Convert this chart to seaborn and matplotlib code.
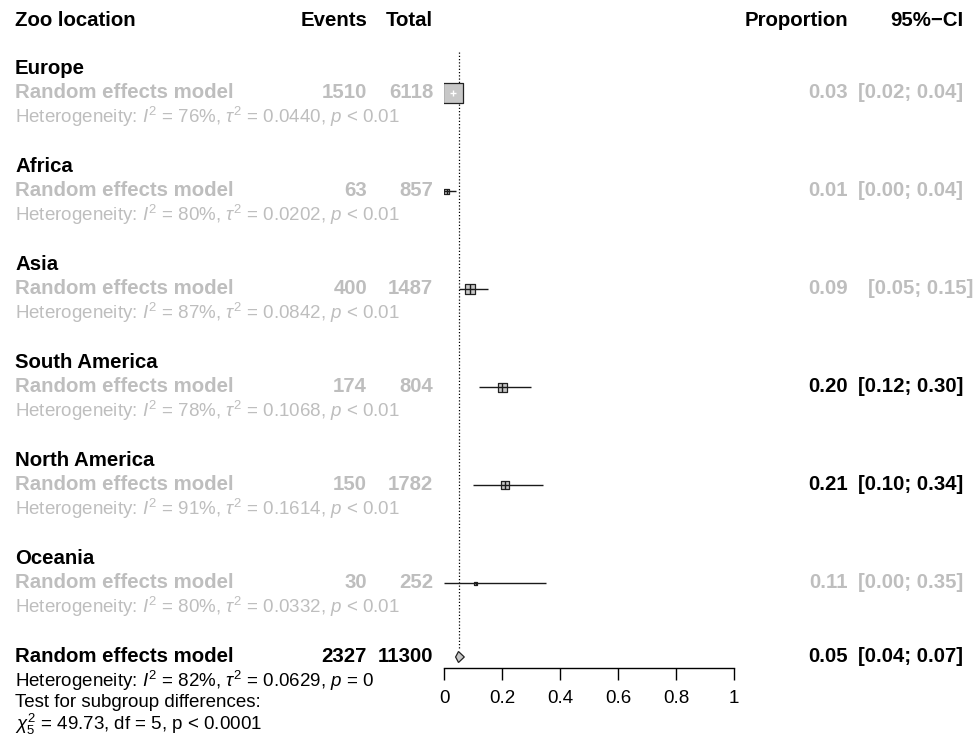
import matplotlib
matplotlib.use("Agg")
import matplotlib.pyplot as plt
import matplotlib.transforms as mtransforms
import numpy as np
import pandas as pd
import seaborn as sns

# data
groups = ["Europe", "Africa", "Asia", "South America", "North America", "Oceania"]
events = [1510, 63, 400, 174, 150, 30]
totals = [6118, 857, 1487, 804, 1782, 252]
prop = [0.03, 0.01, 0.09, 0.20, 0.21, 0.11]
ci_low = [0.02, 0.00, 0.05, 0.12, 0.10, 0.00]
ci_high = [0.04, 0.04, 0.15, 0.30, 0.34, 0.35]
i2 = ["76%", "80%", "87%", "78%", "91%", "80%"]
tau2 = ["0.0440", "0.0202", "0.0842", "0.1068", "0.1614", "0.0332"]
het_p = ["< 0.01"] * 6
bold_est = [False, False, False, True, True, False]

overall_events = 2327
overall_total = 11300
overall_prop = 0.05
overall_ci = (0.04, 0.07)
overall_i2 = "82%"
overall_tau2 = "0.0629"
overall_p = "= 0"
chi2_text = r"$\chi^2_5$ = 49.73, df = 5, p < 0.0001"
xticks = [0, 0.2, 0.4, 0.6, 0.8, 1]

# styling
square_px = [20, 5, 10, 9, 8, 3]
grey_txt = "#bebebe"
fs = 13.5       # regular text
fs_b = 14.7     # bold text
W, H = 976, 743
line_px = 24.0
top_px = 69.0          # pixel of first group label
group_step = 98.0 / line_px

sns.set_theme(style="white")
plt.rcParams["font.family"] = ["Liberation Sans", "DejaVu Sans"]
plt.rcParams["mathtext.fontset"] = "custom"
plt.rcParams["mathtext.rm"] = "Liberation Sans"
plt.rcParams["mathtext.it"] = "Liberation Sans:italic"
plt.rcParams["mathtext.bf"] = "Liberation Sans:bold"

fig = plt.figure(figsize=(W / 100, H / 100), dpi=100)
fig.patch.set_facecolor("white")

x0_px, x1_px = 444, 734
ax = fig.add_axes([x0_px / W, 0, (x1_px - x0_px) / W, 1])
ax.set_xlim(0, 1)
ax.set_ylim((H - top_px) / line_px, -top_px / line_px)
ax.axis("off")

tr = mtransforms.blended_transform_factory(fig.transFigure, ax.transData)


def put(xpx, y, s, ha="left", color="black", bold=False):
    ax.text(xpx / W, y, s, transform=tr, ha=ha, va="center",
            fontsize=fs_b if bold else fs,
            color=color, fontweight="bold" if bold else "normal")


# header
hy = (21 - top_px) / line_px
put(15, hy, "Zoo location", bold=True)
put(367, hy, "Events", ha="right", bold=True)
put(433, hy, "Total", ha="right", bold=True)
put(848, hy, "Proportion", ha="right", bold=True)
put(963, hy, "95%\u2212CI", ha="right", bold=True)

rows = []
for g, name in enumerate(groups):
    y0 = g * group_step
    y_rem = y0 + 1
    put(15, y0, name, bold=True)
    put(15, y_rem, "Random effects model", color=grey_txt, bold=True)
    put(367, y_rem, str(events[g]), ha="right", color=grey_txt, bold=True)
    put(433, y_rem, str(totals[g]), ha="right", color=grey_txt, bold=True)
    put(15, y0 + 2, r"Heterogeneity: $I^2$ = %s, $\tau^2$ = %s, $p$ %s"
        % (i2[g], tau2[g], het_p[g]), color=grey_txt)
    c = "black" if bold_est[g] else grey_txt
    put(848, y_rem, "%.2f" % prop[g], ha="right", color=c, bold=True)
    ci_right = 973 if name == "Asia" else 963
    put(ci_right, y_rem, "[%.2f; %.2f]" % (ci_low[g], ci_high[g]),
        ha="right", color=c, bold=True)
    rows.append(dict(group=name, est=prop[g], lo=ci_low[g], hi=ci_high[g],
                     y=y_rem, sq=square_px[g]))

df = pd.DataFrame(rows)
px_per_x = (x1_px - x0_px)

# confidence interval lines (drawn under squares)
for r in df.itertuples():
    inside = (r.hi - r.lo) * px_per_x < r.sq
    if not inside:
        ax.hlines(r.y, r.lo, r.hi, color="#1a1a1a", lw=1.0, zorder=2)

# squares sized by weight
sizes = {r.group: (r.sq * 72 / 100) ** 2 for r in df.itertuples()}
sns.scatterplot(data=df, x="est", y="y", size="group", sizes=sizes,
                marker="s", color="#c8c8c8", edgecolor="#222222",
                linewidth=0.9, legend=False, ax=ax, zorder=3)

# lines drawn over the squares
for r in df.itertuples():
    inside = (r.hi - r.lo) * px_per_x < r.sq
    col = "white" if inside else "#1a1a1a"
    half = (3 if inside else r.sq / 2) / line_px
    if inside:
        ax.hlines(r.y, r.lo, r.hi, color=col, lw=1.0, zorder=4)
    else:
        ax.hlines(r.y, max(r.lo, r.est - r.sq / 2 / px_per_x),
                  min(r.hi, r.est + r.sq / 2 / px_per_x), color=col, lw=1.0, zorder=4)
    ax.vlines(r.est, r.y - half, r.y + half, color=col, lw=1.0, zorder=4)

# overall
yo = len(groups) * group_step
put(15, yo, "Random effects model", bold=True)
put(367, yo, str(overall_events), ha="right", bold=True)
put(433, yo, str(overall_total), ha="right", bold=True)
put(15, yo + 1.0, r"Heterogeneity: $I^2$ = %s, $\tau^2$ = %s, $p$ %s"
    % (overall_i2, overall_tau2, overall_p))
put(15, yo + 1.9, "Test for subgroup differences:")
put(15, yo + 2.8, chi2_text)
put(848, yo, "%.2f" % overall_prop, ha="right", bold=True)
put(963, yo, "[%.2f; %.2f]" % overall_ci, ha="right", bold=True)

dh = 5.5 / line_px
ax.fill([overall_ci[0], overall_prop, overall_ci[1], overall_prop],
        [yo, yo - dh, yo, yo + dh], facecolor="#c8c8c8", edgecolor="#222222",
        lw=0.9, zorder=3)

# reference line at the overall estimate
ax.vlines(overall_prop, (52 - top_px) / line_px, (650 - top_px) / line_px,
          color="black", lw=0.9, linestyles=(0, (1, 1.6)), zorder=1)

# x axis
axx = fig.add_axes([x0_px / W, 1 - 668 / H, (x1_px - x0_px) / W, 0.0001])
axx.set_xlim(0, 1)
axx.set_yticks([])
for s in ["top", "left", "right"]:
    axx.spines[s].set_visible(False)
axx.spines["bottom"].set_color("black")
axx.spines["bottom"].set_linewidth(1.0)
axx.set_xticks(xticks)
axx.set_xticklabels([("%g" % t) for t in xticks])
axx.tick_params(axis="x", direction="out", length=8.6, width=1.0, pad=7,
                labelsize=fs, colors="black", bottom=True)
axx.patch.set_visible(False)

fig.savefig("out.png", dpi=100, facecolor="white")
